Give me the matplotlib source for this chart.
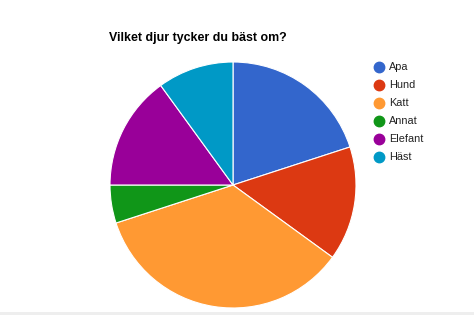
import matplotlib
matplotlib.use("Agg")
import matplotlib.pyplot as plt
from matplotlib.patches import Rectangle

title = "Vilket djur tycker du bäst om?"
animals = ["Apa", "Hund", "Katt", "Annat", "Elefant", "Häst"]
shares = [20, 15, 35, 5, 15, 10]
colors = ["#3366cc", "#dc3912", "#ff9933", "#109618", "#990099", "#0099c6"]

plt.rcParams["font.family"] = ["Liberation Sans", "DejaVu Sans"]

W, H = 474, 315
fig = plt.figure(figsize=(W / 100, H / 100), dpi=100)
fig.patch.set_facecolor("white")

# pie area: centre (233, 185) px, radius 123 px
cx, cy, r = 233, 185, 123
ax = fig.add_axes([(cx - r) / W, (H - cy - r) / H, 2 * r / W, 2 * r / H])
ax.pie(shares, colors=colors, startangle=90, counterclock=False,
       radius=1.0, wedgeprops=dict(edgecolor="white", linewidth=0.8))
ax.set_xlim(-1, 1)
ax.set_ylim(-1, 1)
ax.set_aspect("equal")
ax.axis("off")

fig.text(109 / W, 1 - 38.5 / H, title, fontsize=8.9, fontweight="bold",
         ha="left", va="center", color="#000000")

# legend
lx, ly0, dy = 379, 67, 18
for i, (name, col) in enumerate(zip(animals, colors)):
    y = 1 - (ly0 + i * dy) / H
    fig.lines.append(plt.Line2D([lx / W], [y], marker="o", markersize=7.5,
                                color=col, transform=fig.transFigure))
    fig.text((lx + 10) / W, y, name, fontsize=7.8, ha="left", va="center",
             color="#222222")

# light strip along the bottom edge
fig.patches.append(Rectangle((0, 0), 1, 3 / H, transform=fig.transFigure,
                             facecolor="#eeeeee", edgecolor="none"))

fig.savefig("out.png", dpi=100)
